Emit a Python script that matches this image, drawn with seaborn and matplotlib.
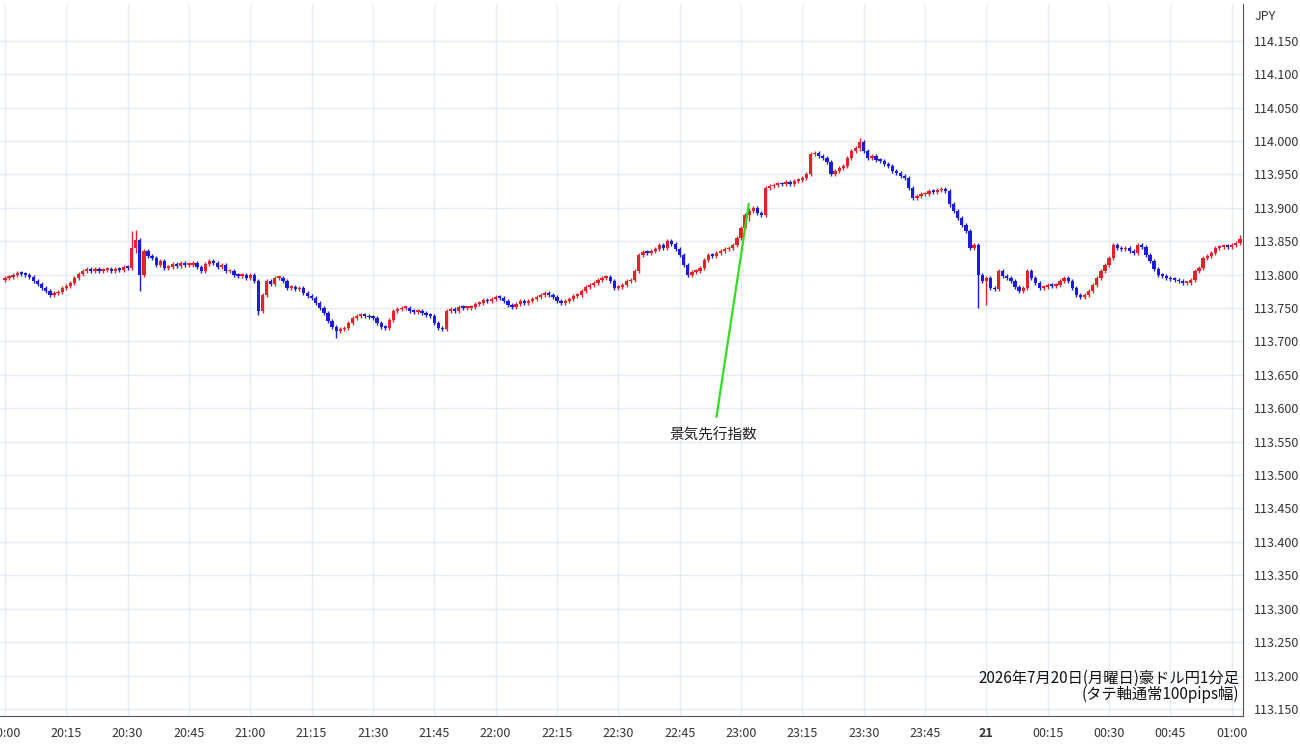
import numpy as np
import pandas as pd
import matplotlib
matplotlib.use("Agg")
import matplotlib.pyplot as plt
import seaborn as sns

# 1分足の終値 (20:00 から 1 行 = 15 分)
closes = [
    113.795,113.797,113.800,113.803,113.801,113.800,113.796,113.790,113.786,113.780,113.775,113.770,113.772,113.774,113.780,
    113.783,113.788,113.795,113.801,113.805,113.809,113.806,113.808,113.806,113.807,113.808,113.806,113.809,113.807,113.812,
    113.810,113.840,113.852,113.800,113.835,113.828,113.825,113.814,113.820,113.810,113.812,113.816,113.813,113.818,113.815,
    113.815,113.818,113.812,113.806,113.816,113.820,113.818,113.812,113.814,113.805,113.805,113.800,113.798,113.800,113.795,
    113.800,113.790,113.745,113.770,113.790,113.786,113.795,113.795,113.790,113.780,113.782,113.778,113.780,113.772,113.768,
    113.765,113.758,113.750,113.742,113.730,113.722,113.715,113.718,113.720,113.728,113.735,113.738,113.740,113.738,113.736,
    113.735,113.728,113.722,113.720,113.732,113.745,113.748,113.750,113.750,113.746,113.744,113.745,113.743,113.740,113.738,
    113.728,113.720,113.718,113.745,113.748,113.746,113.752,113.750,113.750,113.752,113.756,113.758,113.762,113.760,113.763,
    113.766,113.765,113.760,113.755,113.752,113.756,113.760,113.758,113.760,113.764,113.766,113.770,113.772,113.770,113.766,
    113.760,113.758,113.760,113.764,113.768,113.770,113.776,113.782,113.785,113.788,113.792,113.795,113.796,113.790,113.780,
    113.782,113.785,113.790,113.792,113.805,113.830,113.834,113.833,113.835,113.838,113.845,113.840,113.850,113.846,113.838,
    113.830,113.815,113.800,113.804,113.806,113.810,113.822,113.830,113.828,113.832,113.835,113.838,113.840,113.845,113.855,
    113.870,113.890,113.895,113.900,113.893,113.890,113.930,113.932,113.934,113.936,113.935,113.938,113.936,113.940,113.942,
    113.945,113.950,113.980,113.982,113.978,113.975,113.968,113.950,113.955,113.960,113.962,113.975,113.985,113.990,113.998,
    113.985,113.975,113.978,113.972,113.970,113.965,113.962,113.955,113.952,113.948,113.945,113.930,113.915,113.918,113.920,
    113.920,113.925,113.924,113.926,113.928,113.925,113.905,113.895,113.885,113.875,113.865,113.840,113.845,113.800,113.790,
    113.795,113.780,113.778,113.805,113.798,113.795,113.790,113.782,113.775,113.780,113.805,113.795,113.788,113.780,113.782,
    113.785,113.783,113.785,113.790,113.795,113.790,113.780,113.770,113.766,113.770,113.775,113.785,113.795,113.805,113.815,
    113.825,113.845,113.840,113.838,113.840,113.835,113.832,113.845,113.842,113.830,113.820,113.808,113.800,113.798,113.795,
    113.793,113.792,113.790,113.788,113.788,113.792,113.805,113.810,113.825,113.828,113.832,113.840,113.842,113.843,113.842,
    113.845,113.848,113.853,
]
first_open = 113.792

# 目立つヒゲ (分, 高値, 安値)
spike_min = [31, 32, 33, 62, 81, 182, 209, 238, 240, 302]
spike_high = [113.865, 113.867, 113.838, 113.792, 113.722, 113.900, 114.005, 113.845, 113.798, 113.860]
spike_low = [113.808, 113.832, 113.775, 113.740, 113.705, 113.880, 113.985, 113.750, 113.755, 113.845]

xtick_labels = ["20:00", "20:15", "20:30", "20:45", "21:00", "21:15", "21:30", "21:45",
                "22:00", "22:15", "22:30", "22:45", "23:00", "23:15", "23:30", "23:45",
                "21", "00:15", "00:30", "00:45", "01:00"]
price_ticks = [113.15, 113.2, 113.25, 113.3, 113.35, 113.4, 113.45, 113.5, 113.55, 113.6,
               113.65, 113.7, 113.75, 113.8, 113.85, 113.9, 113.95, 114.0, 114.05, 114.1, 114.15]

df = pd.DataFrame({"close": closes})
df["minute"] = np.arange(len(df))
df["open"] = [first_open] + closes[:-1]
df["high"] = df[["open", "close"]].max(axis=1) + 0.003
df["low"] = df[["open", "close"]].min(axis=1) - 0.003
for m, h, l in zip(spike_min, spike_high, spike_low):
    df.loc[m, "high"] = max(h, df.loc[m, "high"])
    df.loc[m, "low"] = min(l, df.loc[m, "low"])
df["up"] = df["close"] >= df["open"]

sns.set_style("white")
plt.rcParams['font.family'] = ['Noto Sans CJK JP', 'DejaVu Sans']

red = "#e8202a"
blue = "#1b1be0"
grid = "#e4ebf2"

fig = plt.figure(figsize=(13, 7.45), dpi=100)
ax = fig.add_axes([0.0, 0.039, 0.956, 0.956])

for i in range(len(xtick_labels)):
    ax.axvline(i * 15, color=grid, lw=1, zorder=0)
for p in price_ticks:
    ax.axhline(p, color=grid, lw=1, zorder=0)

cols = np.where(df["up"], red, blue)
ax.vlines(df["minute"], df["low"], df["high"], colors=cols, lw=1, zorder=2)
body = (df["close"] - df["open"]).abs().clip(lower=0.0025)
ax.bar(df["minute"], body, bottom=df[["open", "close"]].min(axis=1),
       width=0.8, color=cols, zorder=3, linewidth=0)

ax.set_xlim(-1.2, 302.7)
ax.set_ylim(113.1395, 114.2055)

ax.set_xticks(np.arange(len(xtick_labels)) * 15)
ax.set_xticklabels(xtick_labels, fontsize=9, color="#333333")
for t in ax.get_xticklabels():
    if t.get_text() == "21":
        t.set_fontweight("bold")
ax.yaxis.tick_right()
ax.set_yticks(price_ticks)
ax.set_yticklabels([f"{p:.3f}" for p in price_ticks], fontsize=9, color="#333333")
ax.tick_params(length=0, pad=8)
for s in ["top", "left"]:
    ax.spines[s].set_visible(False)
ax.spines["right"].set_color("#555555")
ax.spines["bottom"].set_color("#555555")

# 指標発表の注釈
ax.annotate("景気先行指数", xy=(181.9, 113.906), xytext=(173.3, 113.559),
            ha="center", va="center", fontsize=10.5, color="#222222",
            arrowprops=dict(arrowstyle="-", color="#33dd22", lw=1.6, shrinkA=6, shrinkB=0))

ax.text(0.997, 0.018, "2026年7月20日(月曜日)豪ドル円1分足\n(タテ軸通常100pips幅)",
        transform=ax.transAxes, ha="right", va="bottom", fontsize=11,
        color="#111111", linespacing=0.95)
fig.text(0.973, 0.978, "JPY", ha="center", va="center", fontsize=9, color="#333333")

fig.savefig("out.png", dpi=100, facecolor="white")
